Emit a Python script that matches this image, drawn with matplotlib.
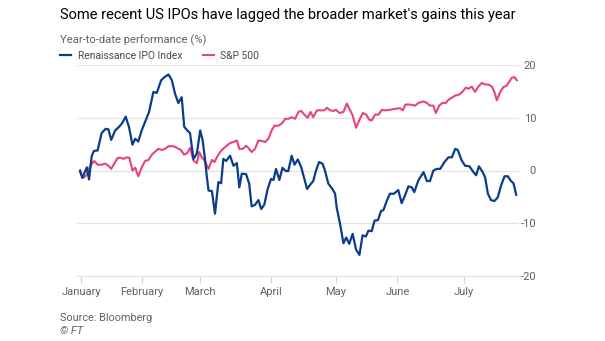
import numpy as np
import matplotlib
matplotlib.use("Agg")
import matplotlib.pyplot as plt

# trading-day index (0 = start of year) and year-to-date % change
ipo_day = [0, 0.7, 2.2, 2.9, 3.8, 4.5, 5.7, 7.0, 8.3, 9.2, 10.1, 11.4, 12.7, 13.7, 14.8, 15.9,
           17.0, 17.9, 18.9, 20.0, 21.3, 22.4, 23.8, 24.9, 26.3, 27.4, 28.7, 29.8, 30.8, 31.9,
           33.0, 33.8, 34.8, 35.7, 36.8, 37.9, 39.0, 39.8, 40.6, 41.1, 41.7, 42.8, 43.8, 44.9,
           45.8, 46.5, 47.4, 48.7, 49.8, 50.9, 51.7, 52.5, 53.9, 54.9, 55.7, 56.8, 57.9, 58.8,
           59.8, 60.9, 62.0, 62.8, 63.6, 64.7, 65.7, 66.8, 67.6, 68.7, 69.6, 70.7, 71.8, 72.8,
           73.7, 74.7, 75.7, 76.6, 77.6, 78.7, 79.5, 80.6, 81.9, 82.8, 83.3, 84.4, 85.5, 86.4,
           87.4, 88.5, 89.6, 90.7, 91.7, 92.8, 93.6, 94.7, 95.6, 96.7, 97.7, 98.5, 99.6, 100.6,
           101.9, 103.3, 104.4, 105.5, 106.6, 107.7, 108.5, 109.8, 111.5, 112.6, 113.6, 114.7,
           115.8, 116.9, 118.3, 119.6, 120.7, 121.8, 122.6, 123.9, 125.0, 126.4, 127.7, 128.6,
           129.5, 130.7, 131.5, 132.4, 133.4, 134.5, 135.6, 136.7, 137.8, 138.9, 139.9, 140.7,
           141.6]
ipo_pct = [0, -1.4, 0.6, -1.7, 2.8, 3.7, 3.8, 7.1, 7.9, 7.8, 5.8, 7.6, 8.3, 9.0, 10.2, 8.2,
           4.9, 6.0, 5.5, 7.6, 9.5, 11.1, 14.9, 14.7, 17.1, 17.7, 18.2, 17.1, 14.6, 12.8,
           13.9, 8.3, 7.6, 7.1, 2.2, 3.2, 7.6, 5.7, 1.9, -0.9, -3.8, -3.9, -8.2, -2.2,
           -2.4, 2.2, 1.8, 2.8, 0.9, 1.4, -3.2, -0.6, -0.7, -2.5, -6.8, -6.5, -5.6, -7.3,
           -6.5, -3.5, -1.6, -1.8, 0.3, -1.8, 0.5, -0.1, -0.1, 2.8, 1.1, 2.1, 0.6, -1.6,
           -3.5, -2.7, -2.0, 0.0, 1.6, 1.3, 0.0, -2.5, -3.5, -4.4, -7.0, -10.1, -13.8, -12.7,
           -13.9, -12.0, -15.0, -16.0, -12.3, -12.5, -11.4, -11.5, -9.5, -9.4, -7.7, -7.5, -5.7, -4.4,
           -4.4, -3.7, -6.2, -4.7, -3.0, -3.2, -4.1, -1.9, -0.3, -2.0, -2.0, 0.0,
           0.3, 0.3, 1.6, 2.5, 2.5, 4.1, 3.9, 1.9, 0.9, 0.8, -0.3, -0.9,
           0.8, -0.3, -1.3, -4.4, -5.6, -5.8, -5.1, -2.8, -1.1, -1.1, -2.0, -2.4,
           -4.6]

spx_day = [0, 1.1, 2.2, 3.2, 4.6, 5.7, 7.0, 8.1, 9.2, 10.1, 11.1, 12.2, 13.3, 14.1, 15.2, 16.0,
           17.0, 17.9, 18.9, 20.0, 21.1, 22.2, 23.3, 24.6, 25.4, 26.5, 27.6, 28.7, 30.3, 31.4,
           32.7, 33.8, 34.8, 35.7, 36.8, 37.9, 38.7, 39.5, 40.4, 41.7, 42.8, 43.6, 44.6, 45.7,
           46.8, 47.6, 48.7, 49.8, 50.9, 51.7, 52.8, 53.9, 54.6, 55.7, 56.8, 57.9, 59.0, 60.1,
           61.1, 62.2, 63.1, 64.4, 65.5, 66.6, 67.6, 68.7, 69.8, 70.9, 71.8, 72.8, 73.9, 74.8,
           75.7, 76.9, 77.9, 79.3, 80.1, 81.2, 82.2, 83.1, 84.2, 85.5, 86.6, 87.7, 88.5, 89.6,
           90.7, 91.8, 92.9, 93.9, 94.7, 95.8, 96.9, 98.0, 99.0, 100.6, 102.3, 103.9, 104.8, 105.6,
           107.1, 108.8, 109.8, 111.5, 112.6, 113.6, 114.7, 115.5, 116.6, 117.6, 118.7, 119.6,
           120.7, 121.8, 123.1, 124.1, 125.2, 126.1, 127.2, 128.2, 129.3, 130.4, 131.5, 132.6,
           133.7, 134.5, 135.3, 136.4, 137.4, 138.5, 139.3, 140.2, 141.0, 141.8]
spx_pct = [-0.3, -1.4, -0.8, 0.8, 1.8, 1.1, 1.1, 1.3, 0.9, 0.3, 1.3, 2.4, 2.4, 2.2, 2.5, 2.4,
           0.0, 0.5, -1.1, 0.6, 1.8, 2.0, 3.0, 3.7, 4.1, 3.9, 4.1, 4.6, 4.6, 4.3,
           3.9, 3.0, 3.3, 4.3, 1.9, 1.4, 3.5, 2.5, 1.9, 0.3, 2.0, 1.6, 2.7, 3.7,
           4.3, 4.7, 5.2, 5.4, 5.7, 4.1, 4.1, 4.7, 4.3, 3.5, 4.1, 5.7, 5.6, 5.4,
           6.0, 7.6, 8.5, 8.5, 8.9, 9.8, 9.8, 10.1, 9.8, 11.1, 11.3, 10.6, 10.0, 11.1,
           10.1, 11.4, 11.4, 11.4, 11.9, 11.4, 11.3, 11.5, 10.9, 11.1, 12.7, 11.4, 10.4, 8.1,
           9.6, 10.9, 10.6, 9.6, 9.5, 10.6, 10.6, 11.5, 11.4, 11.5, 11.7, 11.8, 11.4, 12.5,
           12.5, 12.3, 12.8, 13.1, 12.8, 12.3, 12.3, 10.9, 12.3, 12.8, 12.8, 13.4,
           13.8, 14.2, 14.4, 14.9, 15.7, 15.5, 15.9, 14.9, 15.9, 16.6, 16.3, 16.3,
           15.9, 14.9, 13.3, 14.9, 15.8, 16.1, 16.8, 17.6, 17.7, 17.1]

month_pos = [0.4, 20, 39, 62, 83, 103, 124.5]
month_labels = ["January", "February", "March", "April", "May", "June", "July"]
y_ticks = [-20, -10, 0, 10, 20]

blue = "#0b3c8c"
pink = "#e8437c"
grid_col = "#e6e2de"
grey = "#66605c"

plt.rcParams['font.family'] = ['Roboto', 'DejaVu Sans']

fig = plt.figure(figsize=(6.05, 3.41), dpi=100)
fig.patch.set_facecolor("white")
ax = fig.add_axes([77/605, 1-276/341, 442/605, 211/341])

ax.plot(spx_day, spx_pct, color=pink, lw=1.5, label="S&P 500", zorder=3)
ax.plot(ipo_day, ipo_pct, color=blue, lw=1.6, label="Renaissance IPO Index", zorder=4)

ax.set_xlim(-1.0, 142.5)
ax.set_ylim(-20, 20)
ax.set_yticks(y_ticks)
ax.set_yticklabels([str(v) for v in y_ticks])
ax.yaxis.tick_right()
ax.tick_params(axis='y', length=0, pad=12.3, labelsize=8, labelcolor=grey)
for lab in ax.get_yticklabels():
    lab.set_horizontalalignment('right')
ax.grid(axis='y', color=grid_col, lw=0.9, zorder=0)

ax.set_xticks(month_pos)
ax.set_xticklabels(month_labels)
ax.tick_params(axis='x', length=5, width=0.8, color="#d9d4cf", pad=3, labelsize=8, labelcolor=grey)

for s in ['top', 'right', 'left']:
    ax.spines[s].set_visible(False)
ax.spines['bottom'].set_color(grid_col)
ax.spines['bottom'].set_linewidth(0.9)
ax.set_facecolor("white")

fig.text(60/605, 1-15/341, "Some recent US IPOs have lagged the broader market's gains this year",
         fontsize=10.5, color="#000000", va='center', ha='left')
fig.text(60/605, 1-40/341, "Year-to-date performance (%)", fontsize=8.1, color=grey,
         va='center', ha='left')

handles, labels = ax.get_legend_handles_labels()
leg = fig.legend(handles[::-1], labels[::-1], loc='center left', bbox_to_anchor=(56/605, 1-56/341),
                 ncol=2, frameon=False, fontsize=7.4, handlelength=1.1, handletextpad=0.6,
                 columnspacing=2.0, borderaxespad=0)
for t in leg.get_texts():
    t.set_color("#4d4845")

fig.text(60/605, 1-318/341, "Source: Bloomberg", fontsize=7.8, color=grey, va='center', ha='left')
fig.text(60/605, 1-331/341, "\u00a9 FT", fontsize=7.8, color=grey, va='center', ha='left', style='italic')

fig.savefig("out.png", dpi=100, facecolor="white")
